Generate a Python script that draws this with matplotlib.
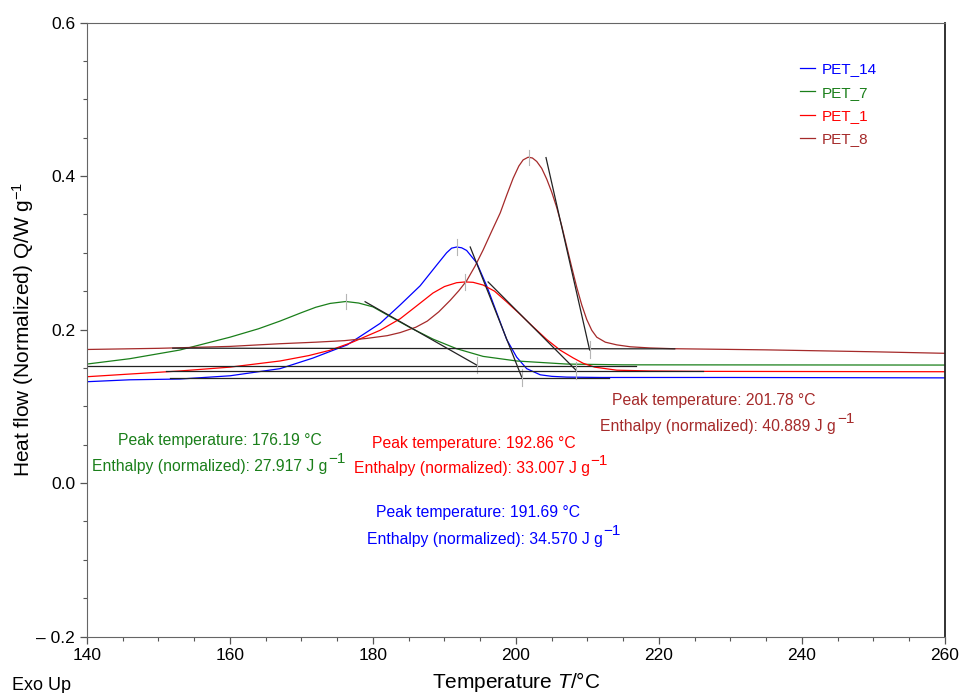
import numpy as np
import matplotlib
matplotlib.use("Agg")
import matplotlib.pyplot as plt
import matplotlib as mpl

mpl.rcParams['font.family'] = ['Liberation Sans', 'DejaVu Sans']
mpl.rcParams['mathtext.fontset'] = 'custom'
mpl.rcParams['mathtext.rm'] = 'Liberation Sans'
mpl.rcParams['mathtext.it'] = 'Liberation Sans:italic'

# --- data ---
t_blue = [140, 146, 153, 160, 167, 171.6, 176.4, 179.2, 181, 183.8, 186.6, 189.0, 190.3, 191.0,
          191.7, 192.4, 193.1, 194.5, 195.9, 197.3, 198.7, 200.1, 201.5, 203.4, 205, 207.1, 212, 230, 260]
q_blue = [0.132, 0.1345, 0.1355, 0.1397, 0.149, 0.1628, 0.180, 0.197, 0.208, 0.232, 0.257, 0.285, 0.300, 0.306,
          0.3075, 0.3065, 0.303, 0.287, 0.257, 0.222, 0.187, 0.164, 0.149, 0.141, 0.139, 0.138, 0.1375, 0.1375, 0.137]

t_green = [140, 146, 153, 160, 164, 167, 170, 172, 174, 176.2, 178, 180, 182, 185.2, 188.4,
           191.7, 195.4, 200.1, 207.1, 215, 260]
q_green = [0.155, 0.162, 0.1733, 0.190, 0.201, 0.211, 0.222, 0.229, 0.234, 0.2365, 0.2345, 0.2295, 0.219, 0.2025, 0.1875,
           0.175, 0.165, 0.159, 0.155, 0.154, 0.1537]

t_red = [140, 146, 153, 160, 167, 171, 174, 177, 181, 183.8, 186, 188.4, 190, 191.7, 192.9, 194, 195.4,
         197, 198.7, 200.5, 202.4, 204.3, 206.2, 208, 209.4, 211, 214.1, 218.7, 225, 260]
q_red = [0.1385, 0.142, 0.146, 0.151, 0.159, 0.166, 0.173, 0.183, 0.199, 0.214, 0.230, 0.2476, 0.256, 0.261, 0.262, 0.2615, 0.258,
         0.250, 0.236, 0.2205, 0.2035, 0.187, 0.173, 0.163, 0.156, 0.151, 0.147, 0.146, 0.1455, 0.145]

t_brown = [140, 150, 160, 167, 172, 176, 179.2, 182, 183.8, 186, 187.6, 189.2, 190.8, 192, 193.1, 194.3, 195.4,
           196.6, 197.8, 198.7, 199.6, 200.4, 201.0, 201.7, 202.3, 202.9, 203.6, 204.3, 205.0, 205.7, 206.4,
           207.1, 207.8, 208.5, 209.2, 209.9, 210.6, 211.3, 212.5, 214.1, 216.0, 218.7, 222, 235, 250, 260]
q_brown = [0.174, 0.1755, 0.178, 0.1815, 0.1835, 0.1855, 0.1885, 0.192, 0.196, 0.203, 0.211, 0.223, 0.238, 0.2505, 0.2635, 0.283, 0.3035,
           0.328, 0.352, 0.375, 0.397, 0.413, 0.421, 0.4245, 0.4235, 0.419, 0.410, 0.396, 0.379, 0.359, 0.335,
           0.308, 0.281, 0.255, 0.232, 0.213, 0.199, 0.190, 0.1835, 0.180, 0.1775, 0.176, 0.175, 0.1735, 0.171, 0.169]

labels = ['PET_14', 'PET_7', 'PET_1', 'PET_8']
colors = ['#0000ff', '#1a7f1a', '#ff0000', '#a52a2a']
peak_temp = [191.69, 176.19, 192.86, 201.78]
peak_q = [0.3075, 0.2365, 0.262, 0.4245]
enthalpy = ['34.570', '27.917', '33.007', '40.889']

# integration baselines and onset/offset tangents
base_t = [[151.6, 213.0], [140.0, 216.8], [151.0, 226.2], [152.0, 222.2]]
base_q = [[0.1368, 0.1368], [0.153, 0.153], [0.146, 0.146], [0.1757, 0.1748]]
tan_t = [[193.6, 200.8], [178.9, 194.5], [196.1, 208.4], [204.2, 210.3]]
tan_q = [[0.3075, 0.138], [0.2362, 0.1537], [0.262, 0.147], [0.424, 0.1734]]

# annotation positions (T, Q): peak line centre, enthalpy line left edge
peak_txt = [(194.7, -0.039), (158.55, 0.056), (194.1, 0.052), (227.7, 0.108)]
enth_txt = [(179.1, -0.073), (140.7, 0.021), (177.3, 0.019), (211.8, 0.073)]

fig = plt.figure(figsize=(9.63, 6.93), dpi=100)
ax = fig.add_axes([0.0903, 0.0815, 0.891, 0.886])

curves = [(t_blue, q_blue), (t_green, q_green), (t_red, q_red), (t_brown, q_brown)]
for (t, q), c, lab in zip(curves, colors, labels):
    ax.plot(t, q, color=c, lw=0.9, label=lab)

for i in range(4):
    ax.plot(base_t[i], base_q[i], color='#222222', lw=0.9)
    ax.plot(tan_t[i], tan_q[i], color='#222222', lw=0.9)
    # small grey markers at the peak and at the tangent end
    ax.plot([peak_temp[i], peak_temp[i]], [peak_q[i] - 0.01, peak_q[i] + 0.01], color='#b5b5b5', lw=0.8)
    ax.plot([tan_t[i][1], tan_t[i][1]], [tan_q[i][1] - 0.011, tan_q[i][1] + 0.011], color='#b5b5b5', lw=0.8)
    ax.text(peak_txt[i][0], peak_txt[i][1], 'Peak temperature: %.2f \u00b0C' % peak_temp[i], color=colors[i],
            fontsize=11.3, ha='center', va='center')
    t = ax.text(enth_txt[i][0], enth_txt[i][1], 'Enthalpy (normalized): %s J g' % enthalpy[i], color=colors[i],
                fontsize=11.3, ha='left', va='center')
    ax.annotate('\u22121', xy=(1, 0.55), xycoords=t, xytext=(0.5, 0), textcoords='offset points',
                color=colors[i], fontsize=11, ha='left', va='bottom')

ax.set_xlim(140, 260)
ax.set_ylim(-0.2, 0.6)
ax.set_xticks([140, 160, 180, 200, 220, 240, 260])
ax.set_xticks(np.arange(140, 261, 5), minor=True)
ax.set_yticks([-0.2, 0.0, 0.2, 0.4, 0.6])
ax.set_yticklabels(['\u2013 0.2', '0.0', '0.2', '0.4', '0.6'])
ax.set_yticks(np.arange(-0.2, 0.61, 0.05), minor=True)
ax.tick_params(which='both', direction='out', colors='#555555', labelcolor='black', labelsize=12.5)
ax.tick_params(which='major', length=5, width=0.9)
ax.tick_params(which='minor', length=3, width=0.8)
for s in ['left', 'bottom', 'top']:
    ax.spines[s].set_color('#666666')
ax.spines['right'].set_color('#222222')
ax.spines['right'].set_linewidth(1.3)

ax.set_xlabel('Temperature $T$/\u00b0C', fontsize=15, labelpad=5)
ax.set_ylabel('Heat flow (Normalized) Q/W g$^{\u22121}$', fontsize=15, labelpad=0)
fig.text(0.0125, 0.011, 'Exo Up', fontsize=13, ha='left', va='center')

ax.legend(loc='upper left', bbox_to_anchor=(0.815, 0.958), frameon=False, fontsize=11,
          handlelength=1.0, handletextpad=0.4, labelspacing=0.62, labelcolor='linecolor')

fig.savefig('out.png', dpi=100)
